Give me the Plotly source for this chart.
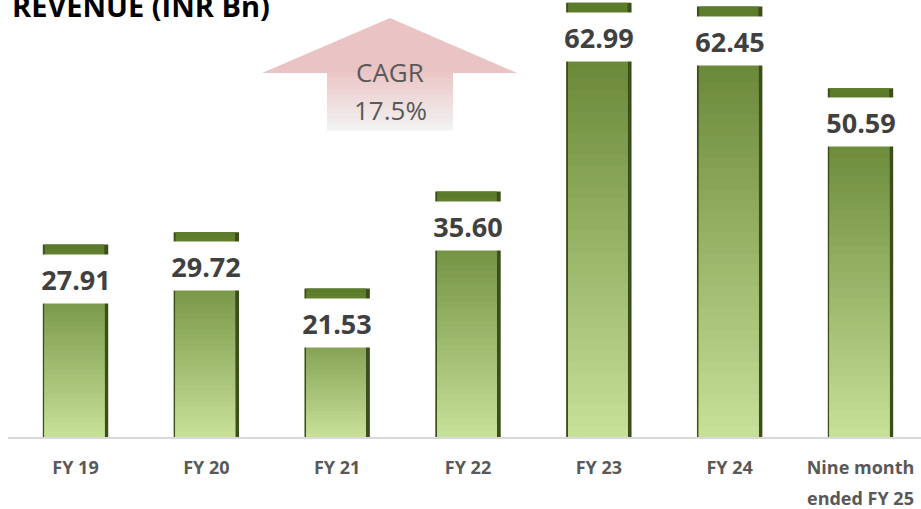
import plotly.graph_objects as go

# ---------------- data ----------------
categories = ["FY 19", "FY 20", "FY 21", "FY 22", "FY 23", "FY 24", "Nine month ended FY 25"]
revenue = [27.91, 29.72, 21.53, 35.60, 62.99, 62.45, 50.59]
tick_labels = ["FY 19", "FY 20", "FY 21", "FY 22", "FY 23", "FY 24", "Nine month"]
value_labels = ["27.91", "29.72", "21.53", "35.60", "62.99", "62.45", "50.59"]
last_tick_second_line = "ended FY 25"
title_text = "REVENUE (INR Bn)"
cagr_label = "CAGR"
cagr_value = "17.5%"

# ---------------- geometry helpers ----------------
W, H = 921, 509
ML, MR, MT, MB = 8, 0, 0, 72
PW = W - ML - MR
PH = H - MT - MB
STEP = 130.83  # px per category


def PX(px):
    return (px - ML) / PW


def PY(py):
    return (MT + PH - py) / PH


def hex2rgb(h):
    h = h.lstrip("#")
    return tuple(int(h[i:i + 2], 16) for i in (0, 2, 4))


def mix(c1, c2, t):
    a, b = hex2rgb(c1), hex2rgb(c2)
    return "rgb(%d,%d,%d)" % tuple(round(a[i] + (b[i] - a[i]) * t) for i in range(3))


FONT = "Open Sans"
fig = go.Figure()

# dark bevel edge layer (full bar)
fig.add_trace(go.Bar(
    x=categories, y=revenue, width=0.5, marker=dict(color="#3c4f1a", line=dict(width=0)),
    hoverinfo="skip", showlegend=False))

# gradient layers (dark top -> light bottom)
N = 40
inset_w = (65.4 - 6) / STEP
inset_off = -0.25 + 2 / STEP
for j in range(N):
    frac = 1 - j / N
    fig.add_trace(go.Bar(
        x=categories, y=[v * frac for v in revenue], width=inset_w, offset=inset_off,
        marker=dict(color=mix("#5d7c2b", "#c6e097", j / (N - 1)), line=dict(width=0)),
        hoverinfo="skip", showlegend=False))

annotations = []
# value labels on white boxes
for c, v, t in zip(categories, revenue, value_labels):
    annotations.append(dict(
        x=c, y=v, xref="x", yref="y", text="<b>%s</b>" % t, showarrow=False,
        yanchor="top", yshift=-9, width=78, height=48, borderpad=0,
        bgcolor="white", font=dict(family=FONT, size=27, color="#404040")))

# second line of last category label
annotations.append(dict(
    x=categories[-1], y=0, xref="x", yref="paper", yanchor="middle", yshift=-61,
    text="<b>%s</b>" % last_tick_second_line, showarrow=False,
    font=dict(family=FONT, size=18, color="#595959")))

# title (cropped at top-left like reference)
annotations.append(dict(
    x=PX(272), y=PY(6), xref="paper", yref="paper", xanchor="right", yanchor="middle",
    text="<b>%s</b>" % title_text, showarrow=False,
    font=dict(family=FONT, size=29, color="black")))

# CAGR text
annotations.append(dict(
    x=PX(390), y=PY(72), xref="paper", yref="paper", xanchor="center", yanchor="middle",
    text=cagr_label, showarrow=False, font=dict(family=FONT, size=26, color="#595959")))
annotations.append(dict(
    x=PX(390), y=PY(110), xref="paper", yref="paper", xanchor="center", yanchor="middle",
    text=cagr_value, showarrow=False, font=dict(family=FONT, size=26, color="#595959")))

# CAGR arrow shapes
shapes = []
shapes.append(dict(
    type="path", xref="paper", yref="paper", layer="below",
    path="M %f,%f L %f,%f L %f,%f Z" % (PX(262), PY(73), PX(390), PY(18), PX(517), PY(73)),
    fillcolor="#eac4c4", line=dict(width=0)))
S = 24
y0, y1 = 72, 130
for k in range(S):
    ya = y0 + (y1 - y0) * k / S
    yb = y0 + (y1 - y0) * (k + 1) / S + 0.5
    shapes.append(dict(
        type="rect", xref="paper", yref="paper", layer="below",
        x0=PX(327), x1=PX(453), y0=PY(ya), y1=PY(yb),
        fillcolor=mix("#ebc6c6", "#f2f2f2", k / (S - 1)), line=dict(width=0)))

x0r = -0.5 - (75.5 - 65.4 - ML) / STEP
fig.update_layout(
    width=W, height=H, margin=dict(l=ML, r=MR, t=MT, b=MB),
    paper_bgcolor="white", plot_bgcolor="white", barmode="overlay",
    bargap=0.5, showlegend=False, hovermode=False,
    xaxis=dict(
        type="category", range=[x0r, x0r + PW / STEP],
        tickmode="array", tickvals=categories, ticktext=["<b>%s</b>" % t for t in tick_labels],
        tickfont=dict(family=FONT, size=18, color="#595959"),
        showgrid=False, zeroline=False, showline=True, linecolor="#d9d9d9", linewidth=2,
        ticks="", ticklabelstandoff=13),
    yaxis=dict(range=[0, 63.4], visible=False, showgrid=False, zeroline=False),
    annotations=annotations, shapes=shapes,
)

fig.write_html("out.html", config={"displayModeBar": False, "staticPlot": True},
               post_script="document.body.style.margin='0';")
